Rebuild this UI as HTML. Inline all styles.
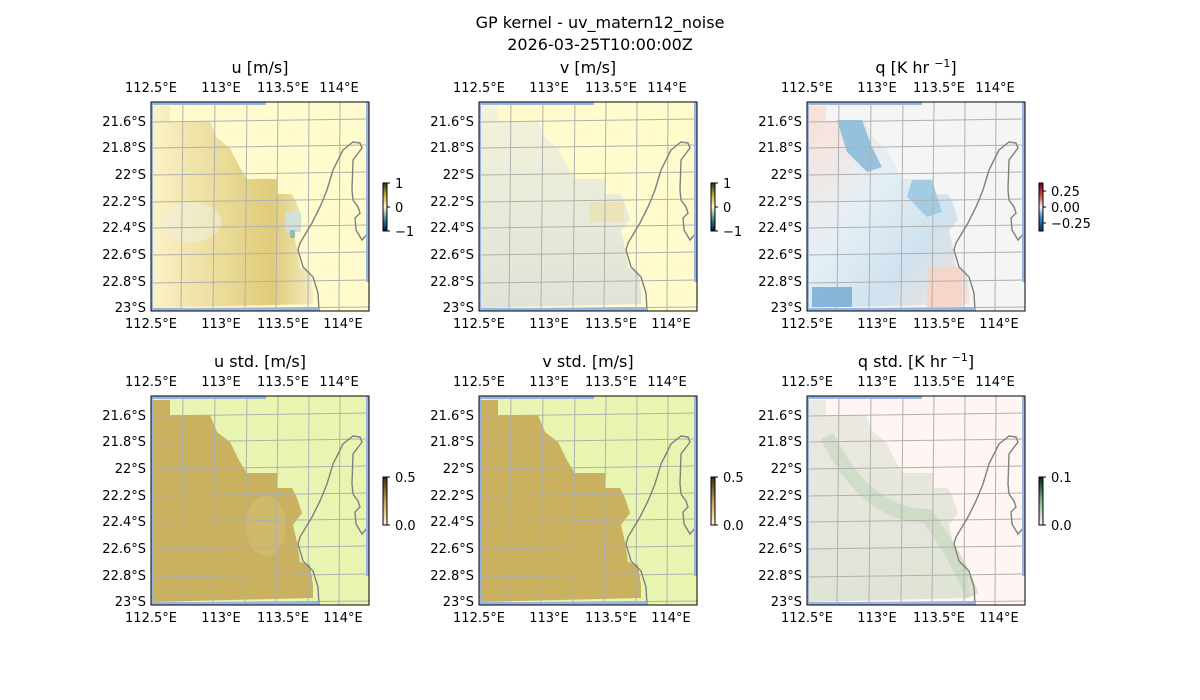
<!DOCTYPE html>
<html><head><meta charset="utf-8"><style>
html,body{margin:0;padding:0;background:#fff;}
svg{display:block;font-family:"DejaVu Sans","Liberation Sans",sans-serif;}
</style></head><body>
<svg width="1200" height="700" viewBox="0 0 1200 700" xmlns="http://www.w3.org/2000/svg">
<defs>
<clipPath id="cp"><rect x="0" y="0" width="218" height="209"/></clipPath>
<g id="coast" fill="none" stroke="#808080" stroke-width="1.4">
<path d="M168,209 L167,191 L162,175 L152,165 L147,148 L149,141 L161,121 L169,105 L176,88 L182,68 L192,48 L202,40 L209,41 L211,46 L202,58 L201,88 L202,98 L207,105 L209,111 L204,116 L205,128 L211,138 L217,131"/>
</g>
<g id="grid" stroke="#b0b0b0" stroke-width="1" fill="none">
<path d="M32,0 L30,209 M64,0 L62,209 M96,0 L94,209 M127,0 L125,209 M158,0 L157,209 M189,0 L188,209"/>
<path d="M0,20 L218,17 M0,46 L218,43 M0,73 L218,70 M0,100 L218,97 M0,126 L218,123 M0,153 L218,150 M0,181 L218,178 M0,207 L218,205"/>
</g>
<g id="edges">
<rect x="0" y="0" width="2" height="209" fill="#9ab6e0"/>
<rect x="215" y="0" width="3" height="180" fill="#9ab6e0"/>
<rect x="0" y="0" width="115" height="3" fill="#9ab6e0"/>
<rect x="0" y="206" width="168" height="3" fill="#9ab6e0"/>
</g>
<polygon id="dreg" points="0,4 19,4 19,19 59,19 66,36 79,46 89,66 96,77 126,77 126,92 141,92 146,102 151,117 142,129 146,146 149,166 159,169 162,189 162,202 0,206"/>
<linearGradient id="gu" x1="0" y1="0" x2="1" y2="0"><stop offset="0" stop-color="#fbf2c6"/><stop offset="0.45" stop-color="#eadb98"/><stop offset="0.75" stop-color="#e0cb78"/><stop offset="1" stop-color="#f4ecc0"/></linearGradient>
<linearGradient id="gv" x1="0" y1="0" x2="0" y2="1"><stop offset="0" stop-color="#f3f2da"/><stop offset="1" stop-color="#dfe4d8"/></linearGradient>
<linearGradient id="gq" x1="0" y1="0" x2="1" y2="1"><stop offset="0" stop-color="#fbe0d4"/><stop offset="0.4" stop-color="#e6eff6"/><stop offset="0.7" stop-color="#cfe2ef"/><stop offset="1" stop-color="#f9e2d6"/></linearGradient>
<linearGradient id="gqs" x1="0" y1="0" x2="0" y2="1"><stop offset="0" stop-color="#ece9e2"/><stop offset="1" stop-color="#dfe4d6"/></linearGradient>
<linearGradient id="cbu" x1="0" y1="1" x2="0" y2="0"><stop offset="0" stop-color="#001040"/><stop offset="0.25" stop-color="#3b8f9a"/><stop offset="0.5" stop-color="#fffbcc"/><stop offset="0.75" stop-color="#c8a838"/><stop offset="1" stop-color="#203a10"/></linearGradient>
<linearGradient id="cbq" x1="0" y1="1" x2="0" y2="0"><stop offset="0" stop-color="#053061"/><stop offset="0.3" stop-color="#4393c3"/><stop offset="0.5" stop-color="#f7f7f7"/><stop offset="0.7" stop-color="#d6604d"/><stop offset="1" stop-color="#67001f"/></linearGradient>
<linearGradient id="cbs" x1="0" y1="1" x2="0" y2="0"><stop offset="0" stop-color="#fffccc"/><stop offset="0.5" stop-color="#c8a050"/><stop offset="1" stop-color="#3a2810"/></linearGradient>
<linearGradient id="cbqs" x1="0" y1="1" x2="0" y2="0"><stop offset="0" stop-color="#fff5f0"/><stop offset="0.5" stop-color="#7fb88f"/><stop offset="1" stop-color="#002818"/></linearGradient>
</defs>

<g font-size="16" text-anchor="middle" fill="#000">
<text x="600" y="28">GP kernel - uv_matern12_noise</text>
<text x="600" y="50">2026-03-25T10:00:00Z</text>
</g>

<!-- Panel 1 u -->
<g transform="translate(151,102)">
<g clip-path="url(#cp)">
<rect width="218" height="209" fill="#fffbcc"/>
<use href="#dreg" fill="url(#gu)"/>
<ellipse cx="40" cy="120" rx="30" ry="20" fill="#efefdc" opacity="0.6"/>
<rect x="135" y="110" width="15" height="20" fill="#d2e2d8"/>
<rect x="139" y="128" width="5" height="8" fill="#8fbfb8"/>
<use href="#grid"/><use href="#coast"/><use href="#edges"/>
</g>
<rect width="218" height="209" fill="none" stroke="#000" stroke-width="1"/>
</g>
<!-- Panel 2 v -->
<g transform="translate(479,102)">
<g clip-path="url(#cp)">
<rect width="218" height="209" fill="#fffbcc"/>
<use href="#dreg" fill="url(#gv)"/>
<rect x="110" y="100" width="35" height="20" fill="#ece2b0" opacity="0.8"/>
<use href="#grid"/><use href="#coast"/><use href="#edges"/>
</g>
<rect width="218" height="209" fill="none" stroke="#000" stroke-width="1"/>
</g>
<!-- Panel 3 q -->
<g transform="translate(807,102)">
<g clip-path="url(#cp)">
<rect width="218" height="209" fill="#f5f5f5"/>
<use href="#dreg" fill="url(#gq)"/>
<polygon points="30,18 55,18 65,45 75,65 60,70 40,50" fill="#7fb6d8" opacity="0.8"/>
<polygon points="105,78 125,78 135,110 120,115 100,95" fill="#9cc9e2" opacity="0.9"/>
<rect x="5" y="185" width="40" height="20" fill="#6fa9d2" opacity="0.8"/>
<rect x="120" y="165" width="35" height="40" fill="#f6d5c5" opacity="0.9"/>
<use href="#grid"/><use href="#coast"/><use href="#edges"/>
</g>
<rect width="218" height="209" fill="none" stroke="#000" stroke-width="1"/>
</g>
<!-- Panel 4 u std -->
<g transform="translate(151,396)">
<g clip-path="url(#cp)">
<rect width="218" height="209" fill="#e8f5b0"/>
<use href="#dreg" fill="#c9b160"/>
<ellipse cx="115" cy="130" rx="20" ry="30" fill="#d4c27a" opacity="0.5"/>
<use href="#grid"/><use href="#coast"/><use href="#edges"/>
</g>
<rect width="218" height="209" fill="none" stroke="#000" stroke-width="1"/>
</g>
<!-- Panel 5 v std -->
<g transform="translate(479,396)">
<g clip-path="url(#cp)">
<rect width="218" height="209" fill="#e8f5b0"/>
<use href="#dreg" fill="#c9b160"/>
<use href="#grid"/><use href="#coast"/><use href="#edges"/>
</g>
<rect width="218" height="209" fill="none" stroke="#000" stroke-width="1"/>
</g>
<!-- Panel 6 q std -->
<g transform="translate(807,396)">
<g clip-path="url(#cp)">
<rect width="218" height="209" fill="#fff5f2"/>
<use href="#dreg" fill="url(#gqs)"/>
<path d="M20,40 Q60,120 120,120 Q150,160 165,200" stroke="#c6d8bf" stroke-width="14" fill="none" opacity="0.7"/>
<use href="#grid"/><use href="#coast"/><use href="#edges"/>
</g>
<rect width="218" height="209" fill="none" stroke="#000" stroke-width="1"/>
</g>

<!-- Titles -->
<g font-size="16" text-anchor="middle">
<text x="260" y="73">u [m/s]</text>
<text x="588" y="73">v [m/s]</text>
<text x="916" y="73">q [K hr <tspan font-size="11" dy="-6">−1</tspan><tspan dy="6">]</tspan></text>
<text x="260" y="367">u std. [m/s]</text>
<text x="588" y="367">v std. [m/s]</text>
<text x="916" y="367">q std. [K hr <tspan font-size="11" dy="-6">−1</tspan><tspan dy="6">]</tspan></text>
</g>

<!-- Tick labels -->
<g font-size="13" fill="#000">
<g text-anchor="middle">
<text x="151" y="92">112.5°E</text><text x="221" y="92">113°E</text><text x="283" y="92">113.5°E</text><text x="339" y="92">114°E</text>
<text x="151" y="328">112.5°E</text><text x="221" y="328">113°E</text><text x="283" y="328">113.5°E</text><text x="343" y="328">114°E</text>
<text x="479" y="92">112.5°E</text><text x="549" y="92">113°E</text><text x="611" y="92">113.5°E</text><text x="667" y="92">114°E</text>
<text x="479" y="328">112.5°E</text><text x="549" y="328">113°E</text><text x="611" y="328">113.5°E</text><text x="671" y="328">114°E</text>
<text x="807" y="92">112.5°E</text><text x="877" y="92">113°E</text><text x="939" y="92">113.5°E</text><text x="995" y="92">114°E</text>
<text x="807" y="328">112.5°E</text><text x="877" y="328">113°E</text><text x="939" y="328">113.5°E</text><text x="999" y="328">114°E</text>
<text x="151" y="386">112.5°E</text><text x="221" y="386">113°E</text><text x="283" y="386">113.5°E</text><text x="339" y="386">114°E</text>
<text x="151" y="622">112.5°E</text><text x="221" y="622">113°E</text><text x="283" y="622">113.5°E</text><text x="343" y="622">114°E</text>
<text x="479" y="386">112.5°E</text><text x="549" y="386">113°E</text><text x="611" y="386">113.5°E</text><text x="667" y="386">114°E</text>
<text x="479" y="622">112.5°E</text><text x="549" y="622">113°E</text><text x="611" y="622">113.5°E</text><text x="671" y="622">114°E</text>
<text x="807" y="386">112.5°E</text><text x="877" y="386">113°E</text><text x="939" y="386">113.5°E</text><text x="995" y="386">114°E</text>
<text x="807" y="622">112.5°E</text><text x="877" y="622">113°E</text><text x="939" y="622">113.5°E</text><text x="999" y="622">114°E</text>
</g>
<g text-anchor="end">
<g id="lat1">
<text x="146" y="126">21.6°S</text><text x="146" y="152">21.8°S</text><text x="146" y="179">22°S</text><text x="146" y="206">22.2°S</text><text x="146" y="232">22.4°S</text><text x="146" y="259">22.6°S</text><text x="146" y="286">22.8°S</text><text x="146" y="312">23°S</text>
</g>
<use href="#lat1" x="328"/><use href="#lat1" x="656"/>
<use href="#lat1" y="294"/><use href="#lat1" x="328" y="294"/><use href="#lat1" x="656" y="294"/>
</g>
</g>

<!-- Colorbars -->
<g stroke="#000" stroke-width="1">
<rect x="383" y="183" width="4" height="48" fill="url(#cbu)"/>
<rect x="711" y="183" width="4" height="48" fill="url(#cbu)"/>
<rect x="1039" y="183" width="4" height="48" fill="url(#cbq)"/>
<rect x="383" y="477" width="4" height="48" fill="url(#cbs)"/>
<rect x="711" y="477" width="4" height="48" fill="url(#cbs)"/>
<rect x="1039" y="477" width="4" height="48" fill="url(#cbqs)"/>
<path d="M387,183h3M387,207h3M387,231h3 M715,183h3M715,207h3M715,231h3 M1043,191h3M1043,207h3M1043,223h3 M387,477h3M387,525h3 M715,477h3M715,525h3 M1043,477h3M1043,525h3" fill="none"/>
</g>
<g font-size="13">
<text x="395" y="188">1</text><text x="395" y="212">0</text><text x="395" y="236">−1</text>
<text x="723" y="188">1</text><text x="723" y="212">0</text><text x="723" y="236">−1</text>
<text x="1051" y="196">0.25</text><text x="1051" y="212">0.00</text><text x="1051" y="228">−0.25</text>
<text x="395" y="482">0.5</text><text x="395" y="530">0.0</text>
<text x="723" y="482">0.5</text><text x="723" y="530">0.0</text>
<text x="1051" y="482">0.1</text><text x="1051" y="530">0.0</text>
</g>
</svg>
</body></html>
